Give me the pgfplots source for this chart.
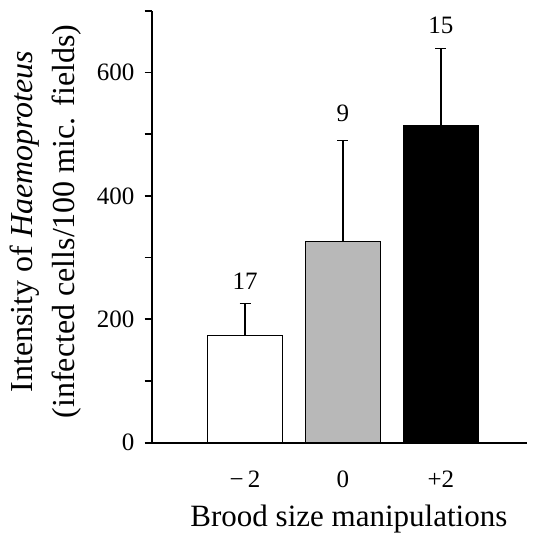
\documentclass[border=0pt]{standalone}
\usepackage{fontspec}
\setmainfont{Liberation Serif}
\usepackage{pgfplots}
\pgfplotsset{compat=1.18}

\begin{document}
\begin{tikzpicture}
% page = 532x540 px, 1 px = 0.5 pt, axis box at origin
\path[use as bounding box] (-76pt,-48.65pt) rectangle (190pt,221.35pt);
\begin{axis}[
    at={(0,0)}, anchor=south west,
    scale only axis,
    width=187.5pt, height=216pt,
    xmin=-0.95, xmax=2.88,
    ymin=0, ymax=700,
    axis x line=bottom, axis y line=left,
    axis line style={line width=1pt, -},
    x axis line style={line width=0.9pt},
    xtick={0,1,2},
    xticklabels={−\,2, 0, +2},
    xtick style={draw=none},
    xticklabel style={anchor=base, yshift=-18.5pt},
    ytick={0,200,400,600},
    minor ytick={100,300,500,700},
    tick align=outside,
    major tick length=3.7pt, minor tick length=3.7pt,
    ytick style={line width=0.8pt, black},
    minor tick style={line width=0.8pt, black},
    yticklabel style={xshift=-1.6pt},
    /pgf/number format/assume math mode=true,
    tick label style={font=\fontsize{12.5}{14}\selectfont},
    xlabel={Brood size manipulations},
    xlabel style={at={(axis description cs:0.525,-0.195)}, anchor=base, inner sep=0pt,
        font=\fontsize{15.5}{18}\selectfont},
    ylabel={Intensity of \textit{Haemoproteus}\\(infected cells/100 mic. fields)},
    ylabel style={at={(axis description cs:-0.187,0.512)}, anchor=south, inner sep=0pt,
        align=center, font=\fontsize{16}{21}\selectfont},
    ybar, bar width=37.5pt, bar shift=0pt,
    clip=false,
    error bars/y dir=plus, error bars/y explicit,
    error bars/error bar style={line width=0.75pt, black},
    error bars/error mark options={rotate=90, mark size=2.75pt, line width=0.75pt, black},
]
\addplot[draw=black, line width=0.8pt, fill=white] coordinates {(0,174) +- (0,51.5)};
\addplot[draw=black, line width=0.8pt, fill=black!28] coordinates {(1,326) +- (0,164)};
\addplot[draw=black, line width=0.8pt, fill=black] coordinates {(2,513) +- (0,126)};

\node[font=\fontsize{12.5}{14}\selectfont] at (axis cs:0,262) {17};
\node[font=\fontsize{12.5}{14}\selectfont] at (axis cs:1,533) {9};
\node[font=\fontsize{12.5}{14}\selectfont] at (axis cs:2,677) {15};
\end{axis}
\end{tikzpicture}
\end{document}
